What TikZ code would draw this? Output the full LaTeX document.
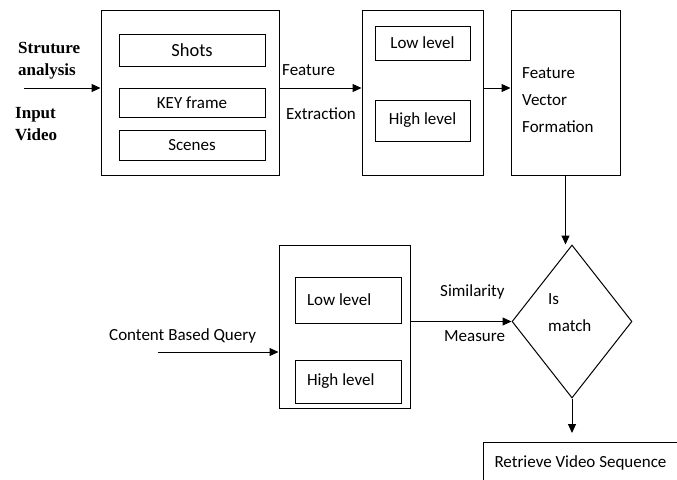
\documentclass[tikz,border=0pt]{standalone}
\usepackage{fontspec}
\setmainfont{Carlito}
\newfontfamily\boldserif{Liberation Serif}
\usetikzlibrary{shapes.geometric,arrows.meta}

\begin{document}
\begin{tikzpicture}[x=1pt,y=-1pt,font=\fontsize{17}{20}\selectfont,
				stage/.style={rectangle,draw,line width=1pt,inner sep=0pt},
				part/.style={rectangle,draw,line width=1pt,inner sep=0pt,minimum width=146pt},
				decision/.style={diamond,draw,line width=1pt,inner sep=0pt,aspect=0.78,minimum width=120pt,minimum height=153pt},
				txt/.style={anchor=west,inner sep=0pt,align=left},
				flow/.style={->,line width=1pt},
				>={Triangle[length=9pt,width=8pt]}]
	\clip (0,0) rectangle (677,479);
	\node[stage,minimum width=178pt,minimum height=165pt] (box1) at (190,92.5) {};
	\node[part,font=\fontsize{18.5}{20}\selectfont,minimum height=32pt] (shots) at (192,50) {Shots};
	\node[part,minimum height=29pt] (key) at (192,102.5) {KEY frame};
	\node[part,minimum height=30pt] (scenes) at (192,145) {Scenes};
	\node[stage,minimum width=121pt,minimum height=165pt] (box2) at (422.5,92.5) {};
	\node[part,minimum width=95pt,minimum height=34pt] (low1) at (422.5,43) {Low level};
	\node[part,minimum width=95pt,minimum height=41pt] (high1) at (422.5,120.5) {High level};
	\node[stage,minimum width=109pt,minimum height=165pt] (box3) at (565.5,92.5) {};
	\node[txt,font=\fontsize{17}{27}\selectfont] (fvf) at (522,100) {Feature\\Vector\\Formation};
	\node[decision] (dia) at (572,321.5) {};
	\node[txt,font=\fontsize{17}{27}\selectfont] (ism) at (548,312.5) {Is\\match};
	\node[stage,minimum width=131pt,minimum height=163pt] (box4) at (344.5,326.5) {};
	\node[part,minimum width=106pt,minimum height=46pt,text width=82pt,align=flush left] (low2) at (348,300) {Low level};
	\node[part,minimum width=106pt,minimum height=43pt,text width=82pt,align=flush left] (high2) at (348,381.5) {High level};
	\node[stage,anchor=north west,minimum width=194pt,minimum height=40pt] (ret) at (483,442) {Retrieve Video Sequence};
	\node[txt,font=\fontsize{17}{22}\selectfont\boldserif\bfseries] (sa) at (18,61) {Struture\\analysis};
	\node[txt,font=\fontsize{17}{22}\selectfont\boldserif\bfseries] (iv) at (15,124) {Input\\Video};
	\node[txt] (feat) at (282,70) {Feature};
	\node[txt] (extr) at (286,114) {Extraction};
	\node[txt] (sim) at (440,292) {Similarity};
	\node[txt] (meas) at (444,336) {Measure};
	\node[txt] (cbq) at (109,336) {Content Based Query};
	\coordinate (vin) at (24,88);
	\coordinate (qin) at (158,352);
	\draw[flow] (vin) -- (vin -| box1.west);
	\draw[flow] (vin -| box1.east) -- (vin -| box2.west);
	\draw[flow] (vin -| box2.east) -- (vin -| box3.west);
	\draw[flow] (box3.south) -- (box3.south |- dia.north);
	\draw[flow] (dia.west -| box4.east) -- (dia.west);
	\draw[flow] (qin) -- (qin -| box4.west);
	\draw[flow,shorten >=9pt] (dia.south) -- (dia.south |- ret.north);
\end{tikzpicture}
\end{document}
